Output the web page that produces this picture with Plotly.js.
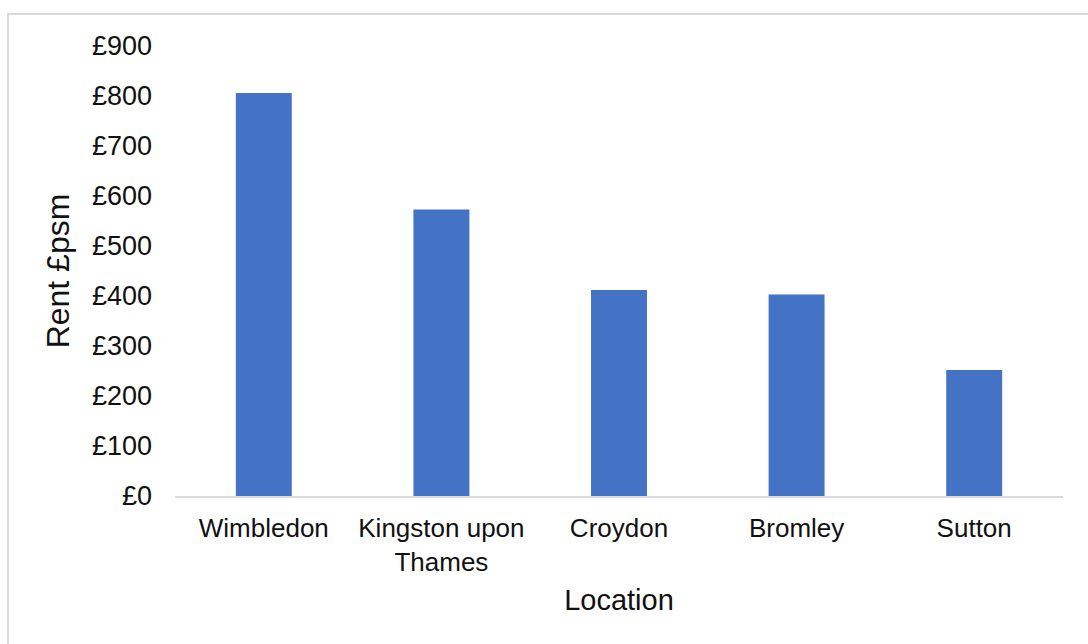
<!DOCTYPE html>
<html>
<head>
<meta charset="utf-8">
<script src="https://cdn.plot.ly/plotly-3.0.1.min.js"></script>
<style>
  html, body { margin: 0; padding: 0; background: #ffffff; }
  #wrap { position: relative; width: 1088px; height: 644px; overflow: hidden; }
  #chart { position: absolute; left: 0; top: 0; width: 1088px; height: 644px; }
  #frame {
    position: absolute; left: 7px; top: 13px; right: -4px; bottom: -4px;
    border-top: 2px solid #d9d9d9; border-left: 2px solid #d9d9d9;
    pointer-events: none;
  }
</style>
</head>
<body>
<div id="wrap">
  <div id="chart"></div>
  <div id="frame"></div>
</div>
<script>
// Prime retail rents by location (£ per square metre)
const locations = ['Wimbledon', 'Kingston upon<br>Thames', 'Croydon', 'Bromley', 'Sutton'];
const rents = [806, 573, 412, 403, 252];
const yTicks = [0, 100, 200, 300, 400, 500, 600, 700, 800, 900];
const yTickText = yTicks.map(v => '£' + v);

const barColor = '#4472C4';
const textColor = '#111111';
const fontFamily = 'Liberation Sans, Arial, sans-serif';

const data = [{
  type: 'bar',
  x: locations,
  y: rents,
  marker: { color: barColor, line: { width: 0 } },
  hoverinfo: 'x+y'
}];

const layout = {
  width: 1088,
  height: 644,
  margin: { l: 175, r: 25, t: 46, b: 148 },
  paper_bgcolor: 'rgba(0,0,0,0)',
  plot_bgcolor: 'rgba(0,0,0,0)',
  bargap: 0.685,
  showlegend: false,
  font: { family: fontFamily, color: textColor },
  xaxis: {
    type: 'category',
    showline: true,
    linecolor: '#d9d9d9',
    linewidth: 2,
    showgrid: false,
    zeroline: false,
    ticks: '',
    ticklabelstandoff: 8,
    tickfont: { size: 26, color: textColor, family: fontFamily },
    title: { text: 'Location', font: { size: 29, color: textColor, family: fontFamily }, standoff: 14 }
  },
  yaxis: {
    range: [0, 900],
    tickvals: yTicks,
    ticktext: yTickText,
    showline: false,
    showgrid: false,
    zeroline: false,
    ticks: '',
    ticklabelstandoff: 22,
    tickfont: { size: 27, color: textColor, family: fontFamily },
    title: { text: 'Rent £psm', font: { size: 32, color: textColor, family: fontFamily }, standoff: 12 }
  }
};

Plotly.newPlot('chart', data, layout, { displayModeBar: false, staticPlot: true });
</script>
</body>
</html>
